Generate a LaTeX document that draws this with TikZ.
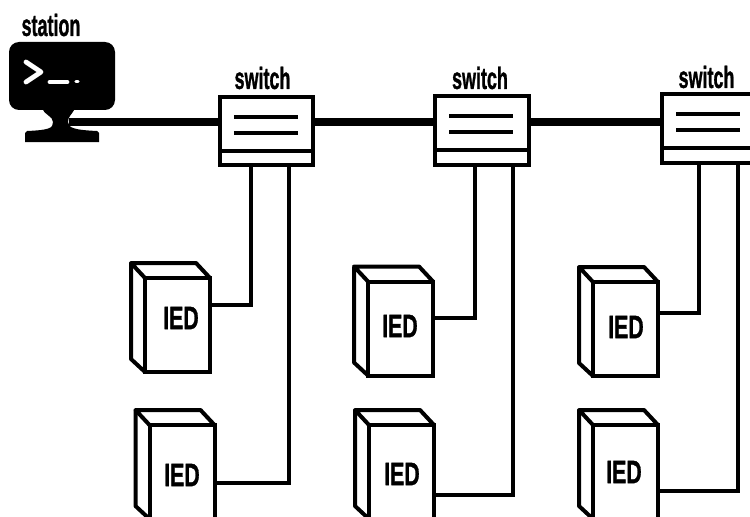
\documentclass[tikz,border=0pt]{standalone}
\usepackage{graphicx}
\usepackage{fontspec}
\setmainfont{Liberation Sans}[BoldFont={Liberation Sans Bold},BoldFeatures={FakeBold=1.3}]
\newcommand{\lblsw}[1]{\fontsize{23}{23}\selectfont\bfseries\scalebox{.585}[1]{#1}}
\newcommand{\lblied}{\fontsize{24.5}{24.5}\selectfont\bfseries\scalebox{.65}[1]{IED}}
\tikzset{
  wire/.style={line width=3pt,line join=miter,black},
  bus/.style={line width=6pt,black},
  subline/.style={line width=2.8pt,black},
  swbox/.style={draw=black,line width=3pt,fill=white,inner sep=0pt,outer sep=0pt,minimum width=70pt,minimum height=51.5pt},
  iedface/.style={draw=black,line width=3pt,fill=white,inner sep=0pt,outer sep=0pt,minimum width=48.75pt,minimum height=70.5pt},
  swlabel/.style={inner sep=0pt},
  iedlabel/.style={inner sep=0pt},
  monitor/.style={fill=black,rounded corners=7.5pt,inner sep=0pt,outer sep=0pt,minimum width=79.5pt,minimum height=51pt},
  prompt/.style={draw=white,line cap=round,line join=round,line width=3.6pt}
}
\newcommand{\swunit}[4]{% name, cx, cy, divider-y
  \node[swbox] (#1) at (#2,#3) {};
  \draw[wire] (#1.west |- 0,#4) -- (#1.east |- 0,#4);
  \draw[subline] ($(#1.north west)+(14,20)$) -- ++(64,0);
  \draw[subline] ($(#1.north west)+(14,36)$) -- ++(64,0);
}
\newcommand{\iedunit}[3]{% name, cx, cy of the front face
  \node[iedface] (#1) at (#2,#3) {};
  \draw[wire,line join=round] (#1.north west) -- ++(-14,-15) -- ++(65,0) -- (#1.north east);
  \draw[wire,line join=round] ($(#1.north west)+(-14,-15)$) -- ($(#1.south west)+(-14,-13)$) -- (#1.south west);
}
\usetikzlibrary{calc}
\begin{document}
\begin{tikzpicture}[x=0.75pt,y=-0.75pt]
\useasboundingbox (0,0) rectangle (750,517);
\clip (0,0) rectangle (750,517);
% station
\node[swlabel] (stl) at (51,25) {\lblsw{station}};
\fill[black] (42,108) .. controls (44,115) and (53,116) .. (53,122)
  .. controls (53,128) and (50,130) .. (27,131) -- (25,133) -- (25,142) -- (99,142) -- (99,133) -- (97,131)
  .. controls (75,130) and (68,128) .. (68,122) .. controls (68,116) and (72,115) .. (75,108) -- cycle;
\node[monitor] (pc) at (62,76) {};
\draw[prompt] (26,62) -- (41,72) -- (26,82);
\draw[prompt] (50,82) -- (67,82);
\draw[prompt,line width=2.6pt] (76,81.5) -- (78,81.5);
\coordinate (pcport) at (69,122);
% switches
\swunit{s1}{266.5}{131}{151}
\swunit{s2}{482}{130.5}{149.5}
\swunit{s3}{709}{128.5}{147.5}
\node[swlabel] (s1l) at (262.5,78) {\lblsw{switch}};
\node[swlabel] (s2l) at (480,78) {\lblsw{switch}};
\node[swlabel] (s3l) at (706.5,77) {\lblsw{switch}};
% bus
\draw[bus] (pcport) -- (s1.west |- pcport);
\draw[bus] (s1.east |- pcport) -- (s2.west |- pcport);
\draw[bus] (s2.east |- pcport) -- (s3.west |- pcport);
% IED boxes
\iedunit{a1}{177.5}{325}
\iedunit{a2}{182}{472}
\iedunit{b1}{400.5}{328.5}
\iedunit{b2}{401.5}{472}
\iedunit{c1}{625.5}{329}
\iedunit{c2}{625.5}{472}
\node[iedlabel] (a1l) at (181,318) {\lblied};
\node[iedlabel] (a2l) at (182,475) {\lblied};
\node[iedlabel] (b1l) at (400,326) {\lblied};
\node[iedlabel] (b2l) at (402,474) {\lblied};
\node[iedlabel] (c1l) at (626,327) {\lblied};
\node[iedlabel] (c2l) at (624,472) {\lblied};
% connectors
\draw[wire] (a1.east |- 0,305) -| (251,0 |- s1.south);
\draw[wire] (a2.east |- 0,483) -| (289,0 |- s1.south);
\draw[wire] (b1.east |- 0,318) -| (475,0 |- s2.south);
\draw[wire] (b2.east |- 0,495) -| (513,0 |- s2.south);
\draw[wire] (c1.east |- 0,313) -| (699,0 |- s3.south);
\draw[wire] (c2.east |- 0,491) -| (738,0 |- s3.south);
\end{tikzpicture}
\end{document}
